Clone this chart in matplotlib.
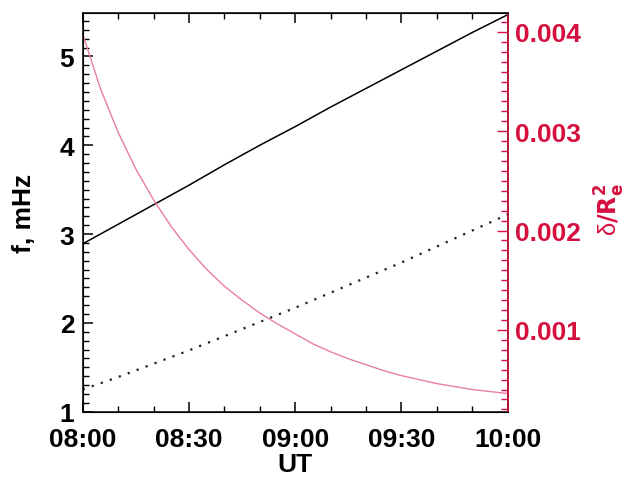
import numpy as np
import matplotlib
matplotlib.use("Agg")
import matplotlib.pyplot as plt
from matplotlib.ticker import MultipleLocator

plt.rcParams['font.family'] = ['Liberation Sans', 'DejaVu Sans']
plt.rcParams['font.weight'] = 'bold'
plt.rcParams['mathtext.default'] = 'regular'

# minutes after 08:00 UT
t_min = [0, 10, 20, 30, 40, 50, 60, 70, 80, 90, 100, 110, 120]
# f, mHz (solid and dotted)
f_solid = [2.89, 3.11, 3.33, 3.55, 3.78, 4.00, 4.21, 4.43, 4.64, 4.85, 5.06, 5.27, 5.47]
f_dotted = [1.25, 1.39, 1.54, 1.69, 1.85, 2.01, 2.17, 2.34, 2.51, 2.68, 2.86, 3.04, 3.22]

# delta / Re^2 (right axis)
t_delta = [0, 5, 10, 15, 20, 25, 30, 35, 40, 45, 50, 55, 60, 65, 70, 75, 80,
           85, 90, 95, 100, 105, 110, 115, 120]
delta = [0.00398, 0.00343, 0.00299, 0.00262, 0.00231, 0.00204, 0.00181, 0.00161,
         0.00144, 0.00130, 0.00117, 0.00106, 0.00096, 0.00086, 0.00078, 0.00071,
         0.00065, 0.00059, 0.00054, 0.00050, 0.00046, 0.00043, 0.00040, 0.00038,
         0.00036]

xtick_pos = [0, 30, 60, 90, 120]
xtick_labels = ['08:00', '08:30', '09:00', '09:30', '10:00']

red = '#d5103f'
pink = '#e8809a'

fig = plt.figure(figsize=(6.35, 4.81), dpi=100)
ax = fig.add_axes([0.1302, 0.142, 0.6693, 0.829])

ax.plot(t_min, f_solid, color='black', lw=1.1)
ax.plot(t_min, f_dotted, color='#222222', lw=1.6, linestyle=(0, (1, 3.3)))

ax.set_xlim(0, 120)
ax.set_ylim(1.0, 5.49)
ax.set_xticks(xtick_pos)
ax.set_xticklabels(xtick_labels)
ax.xaxis.set_minor_locator(MultipleLocator(10))
ax.yaxis.set_major_locator(MultipleLocator(1))
ax.yaxis.set_minor_locator(MultipleLocator(0.1))
ax.tick_params(axis='x', which='both', direction='in', top=True, labelsize=19, pad=11)
ax.tick_params(axis='y', which='both', direction='in', right=False, labelsize=19, pad=6)
ax.tick_params(which='major', length=7, width=1.1)
ax.tick_params(which='minor', length=4, width=1.0)
for s in ax.spines.values():
    s.set_linewidth(1.1)

ax.set_xlabel('UT', fontsize=19, fontweight='bold')
ax.xaxis.set_label_coords(0.5, -0.102)
ax.set_ylabel('f, mHz', fontsize=19, fontweight='bold')
ax.yaxis.set_label_coords(-0.11, 0.5)

ax2 = ax.twinx()
ax2.plot(t_delta, delta, color=pink, lw=1.0)
ax2.set_ylim(0.000177, 0.00419)
ax2.yaxis.set_major_locator(MultipleLocator(0.001))
ax2.yaxis.set_minor_locator(MultipleLocator(0.0001))
ax2.set_yticks([0.001, 0.002, 0.003, 0.004])
ax2.set_yticklabels(['0.001', '0.002', '0.003', '0.004'])
ax2.tick_params(axis='y', which='both', direction='in', colors=red, labelsize=19, pad=5)
ax2.tick_params(which='major', length=8, width=1.0)
ax2.tick_params(which='minor', length=5, width=1.0)
ax2.spines['right'].set_color(red)
ax2.spines['right'].set_linewidth(1.1)
for lab in ax2.get_yticklabels():
    lab.set_fontweight('bold')
ax2.set_ylabel(r'$\delta\mathbf{/R_e^2}$', fontsize=17, color=red)
ax2.yaxis.set_label_coords(1.20, 0.51)

fig.savefig('out.png', dpi=100)
